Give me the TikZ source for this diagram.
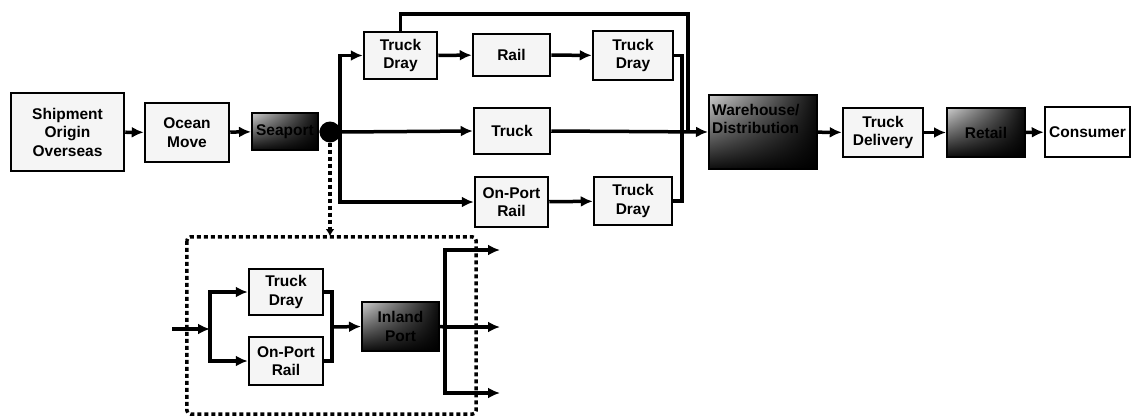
\documentclass[tikz,border=0pt]{standalone}
\usepackage{fontspec}
\setmainfont{Liberation Sans}
\usetikzlibrary{arrows.meta,shadings}
\tikzset{
  box/.style={draw=black, line width=2.5pt, fill=gray!8, align=center, inner sep=1pt,
    font=\fontsize{15.5}{18.5}\selectfont\bfseries},
  darkbox/.style={draw=black, line width=2pt, align=center, inner sep=1pt,
    upper left=gray!40, upper right=black!95, lower left=black!95, lower right=black,
    font=\fontsize{15.5}{18.5}\selectfont\bfseries},
  conn/.style={line width=3.5pt, draw=black},
  arr/.style={conn, -{Latex[length=12pt,width=11pt]}},
  dashline/.style={line width=3.5pt, dash pattern=on 4pt off 3pt, draw=black},
}
\begin{document}
\begin{tikzpicture}[x=1pt,y=-1pt]
\useasboundingbox (0,0) rectangle (1132,418);
% main row
\node[box, minimum width=113pt, minimum height=78pt] (ship) at (67.5,132) {Shipment\\Origin\\Overseas};
\node[box, minimum width=84pt, minimum height=59pt] (ocean) at (187,132.5) {Ocean\\Move};
\node[darkbox, minimum width=66pt, minimum height=37pt] (sea) at (285,131.5) {Seaport};
\node[circle, fill=black, minimum size=21pt, inner sep=0pt] (dot) at (330,132) {};
\coordinate (b) at (340,132);
\node[box, minimum width=73pt, minimum height=47pt] (td1) at (400.5,55.5) {Truck\\Dray};
\node[box, minimum width=77pt, minimum height=42pt] (rail) at (511.5,55) {Rail};
\node[box, minimum width=80pt, minimum height=49pt] (td2) at (633,55.5) {Truck\\Dray};
\node[box, minimum width=76pt, minimum height=46pt] (truck) at (512,131) {Truck};
\node[box, minimum width=73pt, minimum height=50pt] (opr) at (511.5,202) {On-Port\\Rail};
\node[box, minimum width=78pt, minimum height=48pt] (td3) at (633,201) {Truck\\Dray};
\node[darkbox, minimum width=108pt, minimum height=74pt] (wh) at (763,132) {};
\node[anchor=north west, align=left, inner sep=0pt, font=\fontsize{15.5}{18.5}\selectfont\bfseries]
  (whtext) at ([xshift=4pt,yshift=-10pt]wh.north west) {Warehouse/\\Distribution};
\node[box, minimum width=80pt, minimum height=49pt] (tdel) at (883,132.5) {Truck\\Delivery};
\node[darkbox, minimum width=78pt, minimum height=49pt] (ret) at (986,132.5) {Retail};
\node[box, minimum width=85pt, minimum height=50pt, fill=white] (cons) at (1087.5,132) {Consumer};
\coordinate (j1) at (688,131);
\coordinate (j2) at (682,131);
\coordinate (t1) at (688,14);

\draw[arr] (ship) -- (ocean);
\draw[arr] (ocean) -- (sea);
\draw[conn] (sea.east) -- (dot);
\draw[conn] (dot) -- (b);
\draw[arr] (b) |- (td1.west);
\draw[arr] (b) -- (truck.west);
\draw[arr] (b) |- (opr.west);
\draw[arr] (td1) -- (rail);
\draw[arr] (rail) -- (td2);
\draw[arr] (opr) -- (td3);
\draw[arr] (truck.east) -- (wh.west);
\draw[conn] (td1.north) |- (t1) -- (j1);
\draw[conn] (td2.east) -| (j2) |- (td3.east);
\draw[arr] (wh) -- (tdel);
\draw[arr] (tdel) -- (ret);
\draw[arr] (ret) -- (cons);

% lower detail
\node[draw=none, minimum width=289pt, minimum height=177pt, inner sep=0pt] (dbox) at (331.5,325.5) {};
\draw[dashline, rounded corners=4pt] (dbox.north west) rectangle (dbox.south east);
\coordinate (dtop) at (330,236);
\draw[dashline, -{Latex[length=7pt,width=9pt]}] (dot.south) -- (dtop);

\node[box, minimum width=74pt, minimum height=46pt] (ltd) at (286,292) {Truck\\Dray};
\node[box, minimum width=74pt, minimum height=48pt] (lor) at (286,361) {On-Port\\Rail};
\node[darkbox, minimum width=77pt, minimum height=49pt] (inl) at (400.5,326.5) {Inland\\Port};
\coordinate (lin) at (172,329);
\coordinate (lb1) at (210,329);
\coordinate (lb2) at (332,327);
\coordinate (rb) at (445,327);
\coordinate (o1) at (500,250);
\coordinate (o2) at (500,327);
\coordinate (o3) at (500,393);
\draw[arr] (lin) -- (lb1);
\draw[arr, line width=4.5pt] (lb1) |- (ltd.west);
\draw[arr, line width=4.5pt] (lb1) |- (lor.west);
\draw[conn] (ltd.east) -| (lb2) |- (lor.east);
\draw[arr] (lb2) -- (inl.west);
\draw[conn] (inl.east) -- (rb);
\draw[arr, line width=4.5pt] (rb) |- (o1);
\draw[arr] (rb) -- (o2);
\draw[arr, line width=4.5pt] (rb) |- (o3);
\end{tikzpicture}
\end{document}
